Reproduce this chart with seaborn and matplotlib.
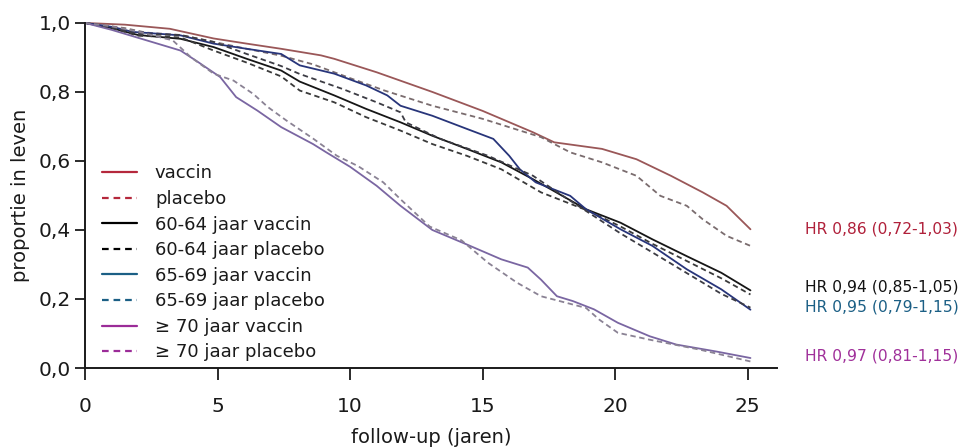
import numpy as np
import pandas as pd
import seaborn as sns
import matplotlib.pyplot as plt
from matplotlib.lines import Line2D

# ───── data ────────────────────────────────────────────────────────────────
t_vac = [0, 1.5, 3.2, 4.85, 6.1, 7.4, 8.9, 9.4, 11.0, 13.1, 15.0, 16.9, 17.7, 19.5, 20.8, 22.1, 23.3, 24.2, 25.1]
s_vac = [1.0, 0.995, 0.983, 0.955, 0.94, 0.925, 0.906, 0.896, 0.857, 0.80, 0.745, 0.683, 0.654, 0.635, 0.605, 0.557, 0.509, 0.47, 0.402]

t_pla = [0, 1.5, 2.3, 3.6, 4.85, 6.1, 7.4, 8.6, 10.0, 11.3, 13.1, 15.0, 17.2, 18.3, 19.5, 20.8, 21.7, 22.7, 23.3, 24.2, 25.1]
s_pla = [1.0, 0.985, 0.972, 0.965, 0.945, 0.925, 0.905, 0.88, 0.84, 0.804, 0.76, 0.722, 0.669, 0.625, 0.596, 0.557, 0.499, 0.47, 0.431, 0.383, 0.354]

t_6064_vac = [0, 1.0, 2.0, 3.6, 4.85, 6.1, 7.4, 8.1, 9.4, 10.6, 11.9, 13.1, 14.4, 15.7, 16.9, 18.9, 20.2, 21.4, 22.7, 24.0, 25.1]
s_6064_vac = [1.0, 0.985, 0.965, 0.954, 0.93, 0.896, 0.862, 0.83, 0.79, 0.751, 0.712, 0.673, 0.635, 0.596, 0.547, 0.46, 0.421, 0.373, 0.324, 0.276, 0.225]

t_6064_pla = [0, 1.0, 2.0, 3.6, 4.85, 6.1, 7.4, 8.1, 9.4, 10.6, 11.9, 13.1, 14.4, 15.7, 17.2, 19.0, 20.2, 21.4, 22.7, 24.0, 25.1]
s_6064_pla = [1.0, 0.985, 0.963, 0.958, 0.92, 0.885, 0.845, 0.804, 0.77, 0.727, 0.688, 0.649, 0.615, 0.576, 0.509, 0.455, 0.41, 0.36, 0.31, 0.26, 0.213]

t_6569_vac = [0, 1.06, 1.8, 3.6, 4.85, 6.1, 7.4, 8.1, 9.4, 10.6, 11.4, 11.9, 13.1, 14.4, 15.4, 16.0, 16.4, 17.0, 18.3, 18.9, 20.2, 21.4, 22.7, 24.0, 25.1]
s_6569_vac = [1.0, 0.988, 0.974, 0.964, 0.94, 0.925, 0.91, 0.877, 0.853, 0.819, 0.79, 0.76, 0.731, 0.693, 0.664, 0.615, 0.576, 0.538, 0.499, 0.46, 0.402, 0.354, 0.286, 0.228, 0.169]

t_6569_pla = [0, 1.0, 2.0, 3.6, 4.85, 6.1, 7.4, 8.1, 9.7, 11.0, 11.9, 12.1, 13.4, 15.2, 16.9, 18.0, 19.0, 20.2, 21.4, 22.7, 24.0, 25.1]
s_6569_pla = [1.0, 0.988, 0.968, 0.965, 0.945, 0.91, 0.875, 0.852, 0.809, 0.77, 0.741, 0.712, 0.664, 0.615, 0.557, 0.50, 0.45, 0.39, 0.335, 0.275, 0.215, 0.175]

t_70_vac = [0, 1.0, 2.3, 3.6, 4.2, 5.1, 5.7, 6.5, 7.4, 8.6, 9.1, 10.0, 11.0, 11.9, 13.1, 14.4, 15.7, 16.7, 17.2, 17.8, 18.4, 19.2, 20.1, 21.3, 22.3, 23.8, 25.1]
s_70_vac = [1.0, 0.98, 0.95, 0.92, 0.89, 0.843, 0.785, 0.746, 0.698, 0.649, 0.625, 0.583, 0.528, 0.47, 0.40, 0.358, 0.315, 0.291, 0.256, 0.208, 0.194, 0.17, 0.131, 0.092, 0.068, 0.048, 0.029]

t_70_pla = [0, 1.0, 2.0, 3.0, 3.3, 4.0, 4.85, 5.6, 6.35, 6.9, 7.6, 8.6, 9.5, 10.3, 11.25, 11.9, 13.0, 14.2, 15.2, 16.3, 17.2, 17.9, 18.9, 19.4, 20.1, 21.3, 23.2, 25.1]
s_70_pla = [1.0, 0.99, 0.975, 0.955, 0.95, 0.90, 0.853, 0.833, 0.794, 0.756, 0.717, 0.665, 0.615, 0.585, 0.538, 0.489, 0.41, 0.37, 0.305, 0.247, 0.208, 0.194, 0.174, 0.14, 0.102, 0.082, 0.053, 0.019]

labels = ["vaccin", "placebo",
          "60-64 jaar vaccin", "60-64 jaar placebo",
          "65-69 jaar vaccin", "65-69 jaar placebo",
          "\u2265 70 jaar vaccin", "\u2265 70 jaar placebo"]

hr_labels = ["HR 0,86 (0,72-1,03)", "HR 0,94 (0,85-1,05)",
             "HR 0,95 (0,79-1,15)", "HR 0,97 (0,81-1,15)"]

# ───── styling ─────────────────────────────────────────────────────────────
sns.set_style("ticks")
plt.rcParams['font.family'] = ['DejaVu Sans']
plt.rcParams['text.color'] = "#1a1a1a"
plt.rcParams['axes.labelcolor'] = "#1a1a1a"
plt.rcParams['xtick.color'] = "#1a1a1a"
plt.rcParams['ytick.color'] = "#1a1a1a"
plt.rcParams['axes.edgecolor'] = "#1a1a1a"

# colour of the curves as printed, and colour of the legend keys
curve_cols = ["#9a5758", "#7a6c6e", "#161616", "#3a3a3a",
              "#28357a", "#3c3c44", "#7a66a2", "#8a8294"]
key_cols = ["#b5283c", "#b5283c", "#000000", "#000000",
            "#1b5f85", "#1b5f85", "#9b2c98", "#9b2c98"]
hr_cols = ["#b0203a", "#111111", "#1b5f85", "#a0309a"]

series = [(t_vac, s_vac), (t_pla, s_pla),
          (t_6064_vac, s_6064_vac), (t_6064_pla, s_6064_pla),
          (t_6569_vac, s_6569_vac), (t_6569_pla, s_6569_pla),
          (t_70_vac, s_70_vac), (t_70_pla, s_70_pla)]

fig = plt.figure(figsize=(9.61, 4.47), dpi=100)
ax = fig.add_axes([0.0885, 0.1767, 0.72, 0.772])

for i, (t, s) in enumerate(series):
    df = pd.DataFrame({"t": t, "s": s})
    ls = "-" if i % 2 == 0 else (0, (3, 2))
    sns.lineplot(data=df, x="t", y="s", ax=ax, color=curve_cols[i],
                 linewidth=1.3, linestyle=ls, sort=False, estimator=None,
                 legend=False, clip_on=False)

ax.set_xlim(0, 26.1)
ax.set_ylim(0, 1.0)
ax.set_xticks([0, 5, 10, 15, 20, 25])
ax.set_yticks([0, 0.2, 0.4, 0.6, 0.8, 1.0])
ax.set_yticklabels(["0,0", "0,2", "0,4", "0,6", "0,8", "1,0"])
ax.tick_params(axis='y', length=7.2, width=1.3, labelsize=14.5, pad=3)
ax.tick_params(axis='x', length=8.6, width=1.3, labelsize=14.5, pad=12)
for side in ["left", "bottom"]:
    ax.spines[side].set_linewidth(1.4)
sns.despine(ax=ax)

ax.set_xlabel("follow-up (jaren)", fontsize=14, labelpad=9)
ax.set_ylabel("proportie in leven", fontsize=14, labelpad=6)

handles = [Line2D([0], [0], color=key_cols[i], lw=1.6,
                  ls="-" if i % 2 == 0 else (0, (3, 2.2)))
           for i in range(len(labels))]
ax.legend(handles, labels, loc="upper left", bbox_to_anchor=(0.024, 0.59),
          frameon=False, fontsize=13, handlelength=1.95, handletextpad=1.0,
          labelspacing=0.42, borderpad=0, borderaxespad=0)

# hazard ratios to the right of the curves
hr_y = [0.403, 0.235, 0.177, 0.035]
for txt, y, c in zip(hr_labels, hr_y, hr_cols):
    ax.text(1.04, y, txt, transform=ax.transAxes, color=c, fontsize=11.2,
            ha="left", va="center")

fig.savefig("out.png", dpi=100)
